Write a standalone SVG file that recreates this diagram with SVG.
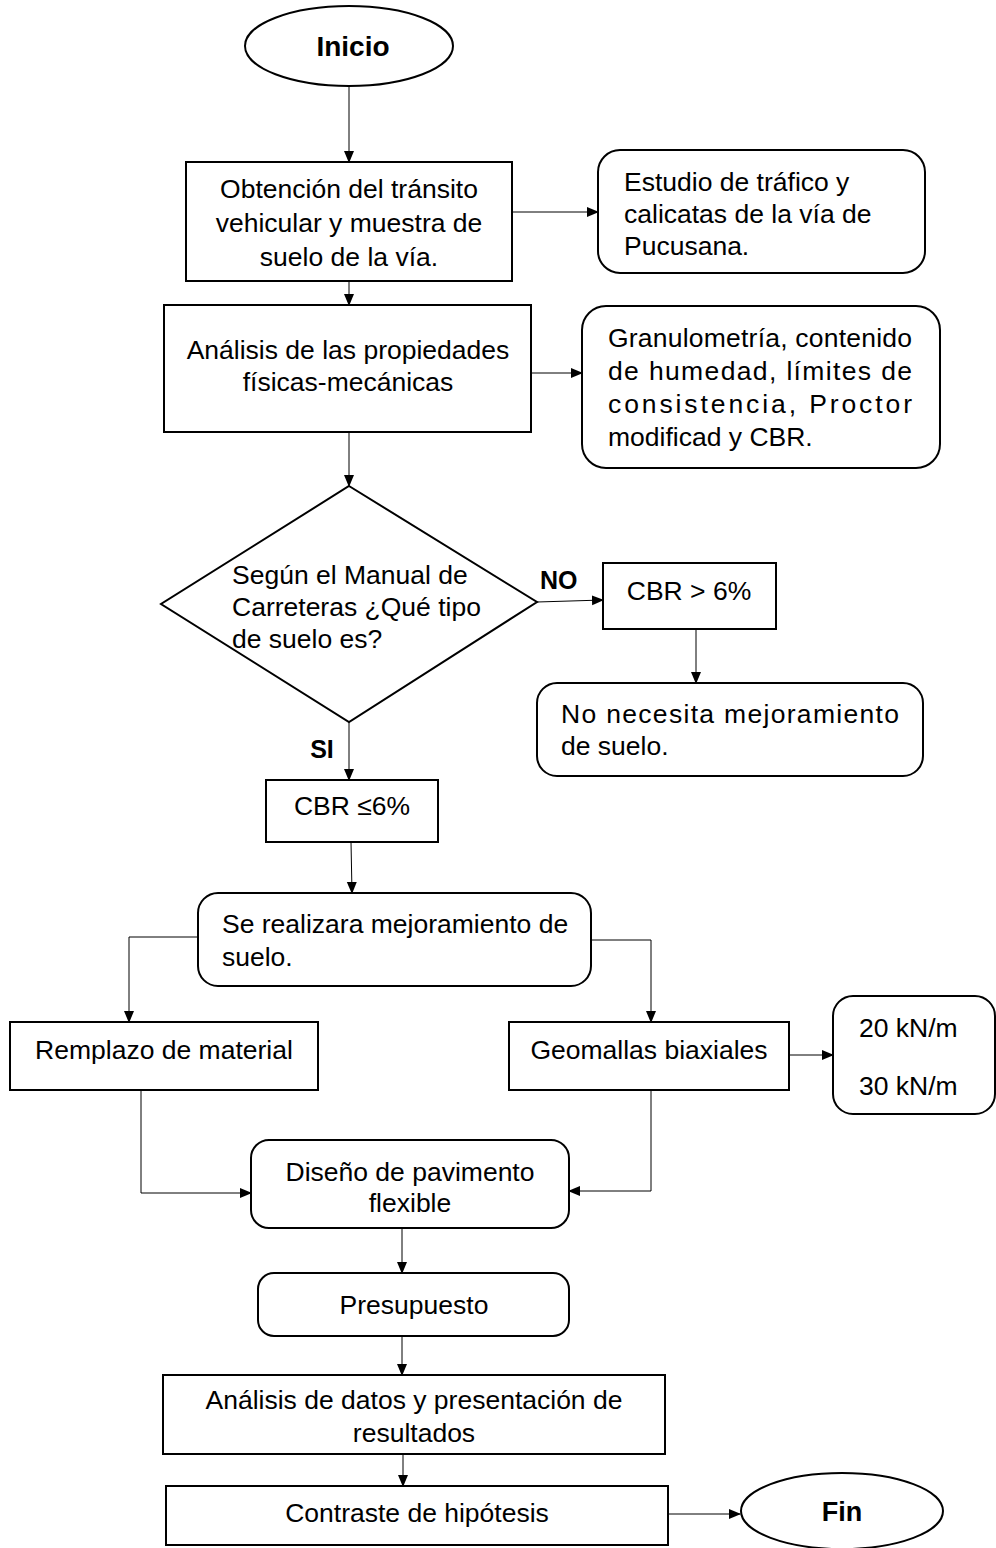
<svg xmlns="http://www.w3.org/2000/svg" width="996" height="1548" viewBox="0 0 996 1548">
<defs>
<marker id="ah" markerWidth="12" markerHeight="12" refX="11" refY="6" orient="auto" markerUnits="userSpaceOnUse">
<path d="M0,1 L12,6 L0,11 Z" fill="#000"/>
</marker>
<style>
.n{fill:#fff;stroke:#000;stroke-width:2}
.c{fill:none;stroke:#000;stroke-width:1;marker-end:url(#ah)}
text{font-family:"Liberation Sans",Arial,sans-serif;font-size:26.5px;fill:#000}
.m{text-anchor:middle}
.b{font-weight:bold}
</style>
</defs>
<rect width="996" height="1548" fill="#fff"/>
<g id="connectors">
<path class="c" d="M349,86 V162"/>
<path class="c" d="M512,212 H598"/>
<path class="c" d="M349,281 V305"/>
<path class="c" d="M531,373 H582"/>
<path class="c" d="M349,432 V486"/>
<path class="c" d="M537,602 L603,600"/>
<path class="c" d="M696,629 V683"/>
<path class="c" d="M349,722 V780"/>
<path class="c" d="M351,842 L352,893"/>
<path class="c" d="M198,937 H129 V1022"/>
<path class="c" d="M591,940 H651 V1022"/>
<path class="c" d="M789,1055 H833"/>
<path class="c" d="M141,1090 V1193 H251"/>
<path class="c" d="M651,1090 V1191 H569"/>
<path class="c" d="M402,1228 V1273"/>
<path class="c" d="M402,1336 V1375"/>
<path class="c" d="M403,1454 V1486"/>
<path class="c" d="M668,1514 H740"/>
<text class="b" x="540" y="589" style="font-size:25px">NO</text>
<text class="b" x="322" y="758" text-anchor="middle" style="font-size:25px">SI</text>
</g>
<g id="inicio">
<ellipse class="n" cx="349" cy="46" rx="104" ry="40"/>
<text class="m b" x="353" y="56" style="font-size:28px">Inicio</text>
</g>
<g id="obtencion">
<rect class="n" x="186" y="162" width="326" height="119"/>
<text class="m" x="349" y="198">Obtención del tránsito</text>
<text class="m" x="349" y="232">vehicular y muestra de</text>
<text class="m" x="349" y="266">suelo de la vía.</text>
</g>
<g id="estudio">
<rect class="n" x="598" y="150" width="327" height="123" rx="22"/>
<text x="624" y="191">Estudio de tráfico y</text>
<text x="624" y="223">calicatas de la vía de</text>
<text x="624" y="255">Pucusana.</text>
</g>
<g id="analisis">
<rect class="n" x="164" y="305" width="367" height="127"/>
<text class="m" x="348" y="359">Análisis de las propiedades</text>
<text class="m" x="348" y="391">físicas-mecánicas</text>
</g>
<g id="granulometria">
<rect class="n" x="582" y="306" width="358" height="162" rx="24"/>
<text x="608" y="347" textLength="304" lengthAdjust="spacing">Granulometría, contenido</text>
<text x="608" y="380" textLength="304" lengthAdjust="spacing">de humedad, límites de</text>
<text x="608" y="413" textLength="304" lengthAdjust="spacing">consistencia, Proctor</text>
<text x="608" y="446">modificad y CBR.</text>
</g>
<g id="decision">
<polygon class="n" points="349,486 537,602 349,722 161,604"/>
<text x="232" y="584">Según el Manual de</text>
<text x="232" y="616">Carreteras ¿Qué tipo</text>
<text x="232" y="648">de suelo es?</text>
</g>
<g id="cbr-mayor">
<rect class="n" x="603" y="563" width="173" height="66"/>
<text class="m" x="689" y="600">CBR &gt; 6%</text>
</g>
<g id="no-necesita">
<rect class="n" x="537" y="683" width="386" height="93" rx="20"/>
<text x="561" y="723" textLength="338" lengthAdjust="spacing">No necesita mejoramiento</text>
<text x="561" y="755">de suelo.</text>
</g>
<g id="cbr-menor">
<rect class="n" x="266" y="780" width="172" height="62"/>
<text class="m" x="352" y="815">CBR ≤6%</text>
</g>
<g id="mejoramiento">
<rect class="n" x="198" y="893" width="393" height="93" rx="20"/>
<text x="222" y="933">Se realizara mejoramiento de</text>
<text x="222" y="966">suelo.</text>
</g>
<g id="remplazo">
<rect class="n" x="10" y="1022" width="308" height="68"/>
<text class="m" x="164" y="1059">Remplazo de material</text>
</g>
<g id="geomallas">
<rect class="n" x="509" y="1022" width="280" height="68"/>
<text class="m" x="649" y="1059">Geomallas biaxiales</text>
</g>
<g id="kn">
<rect class="n" x="833" y="996" width="162" height="118" rx="20"/>
<text x="859" y="1037">20 kN/m</text>
<text x="859" y="1095">30 kN/m</text>
</g>
<g id="diseno">
<rect class="n" x="251" y="1140" width="318" height="88" rx="18"/>
<text class="m" x="410" y="1181">Diseño de pavimento</text>
<text class="m" x="410" y="1212">flexible</text>
</g>
<g id="presupuesto">
<rect class="n" x="258" y="1273" width="311" height="63" rx="16"/>
<text class="m" x="414" y="1314">Presupuesto</text>
</g>
<g id="analisis-datos">
<rect class="n" x="163" y="1375" width="502" height="79"/>
<text class="m" x="414" y="1409">Análisis de datos y presentación de</text>
<text class="m" x="414" y="1442">resultados</text>
</g>
<g id="contraste">
<rect class="n" x="166" y="1486" width="502" height="59"/>
<text class="m" x="417" y="1522">Contraste de hipótesis</text>
</g>
<g id="fin">
<ellipse class="n" cx="842" cy="1511" rx="101" ry="38"/>
<text class="m b" x="842" y="1521" style="font-size:27px">Fin</text>
</g>
</svg>
